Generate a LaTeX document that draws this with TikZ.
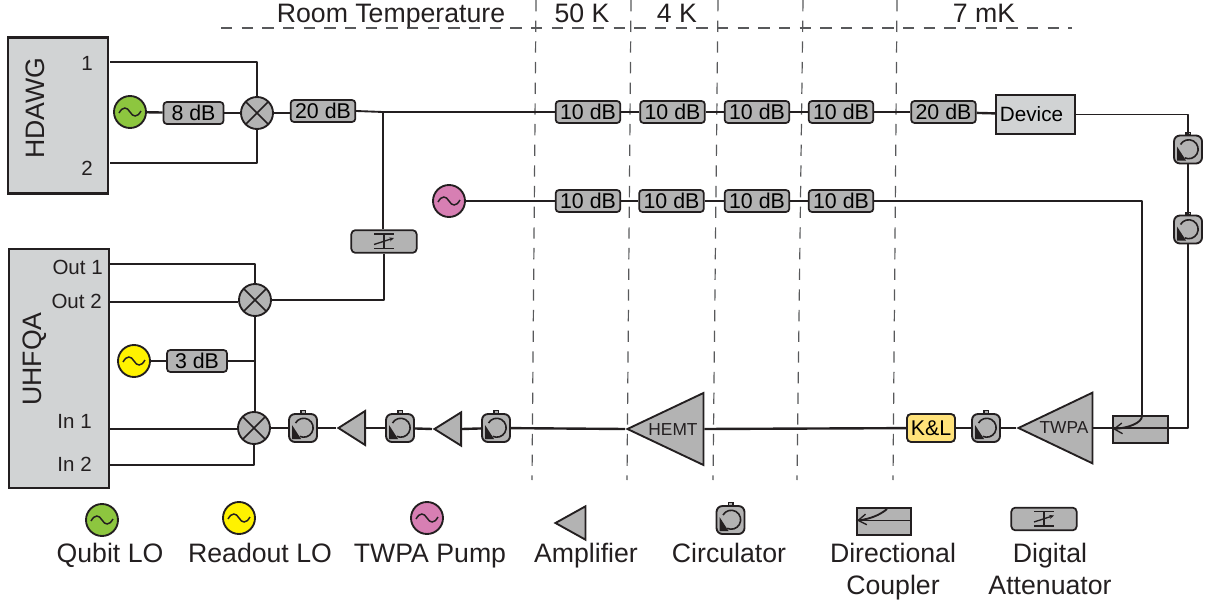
\documentclass[tikz,border=0pt]{standalone}
\usepackage{fontspec}
\setmainfont{Liberation Sans}
\usetikzlibrary{arrows.meta,shapes.geometric,calc}
\definecolor{ink}{HTML}{231F20}
\definecolor{part}{HTML}{B3B3B3}
\definecolor{inst}{HTML}{D1D3D4}
\definecolor{qubitc}{HTML}{8DC63F}
\definecolor{readc}{HTML}{FFF200}
\definecolor{pumpc}{HTML}{D77FB3}
\definecolor{klc}{HTML}{FFE27A}
\definecolor{dashc}{HTML}{58595B}
\newcommand{\fs}[1]{\fontsize{#1}{#1}\selectfont}
\tikzset{
  x=0.75pt,y=-0.75pt,
  wire/.style={draw=ink,line width=1.8pt,line join=round},
  thinwire/.style={draw=ink,line width=1.4pt,line join=round},
  templine/.style={draw=dashc,line width=0.9pt,dash pattern=on 8.5pt off 7pt},
  dbbox/.style={draw=ink,fill=part,line width=1.3pt,rounded corners=2.5pt,minimum width=48.5pt,minimum height=16.5pt,inner sep=0pt,font=\fs{16}},
  smalldb/.style={dbbox,minimum width=45pt},
  instrument/.style={draw=ink,fill=inst,line width=1.6pt,inner sep=0pt},
  mixer/.style={circle,draw=ink,fill=part,line width=1.4pt,minimum size=24pt,inner sep=0pt,
    path picture={\draw[ink,line width=1.3pt]
      (path picture bounding box.south west)--(path picture bounding box.north east)
      (path picture bounding box.north west)--(path picture bounding box.south east);}},
  source/.style={circle,draw=ink,fill=#1,line width=1.4pt,minimum size=24pt,inner sep=0pt,
    path picture={\draw[ink,line width=1.1pt,shift={(path picture bounding box.center)}]
      (-11,1) .. controls (-7,-6) and (-3,-5) .. (0,0) .. controls (3,5) and (7,6) .. (11,-1);}},
  ampshape/.style={isosceles triangle,isosceles triangle stretches,shape border rotate=180,draw=ink,fill=part,line width=1.4pt,inner sep=0pt,anchor=apex},
  circbox/.style={draw=ink,fill=part,line width=1.4pt,rounded corners=4.5pt,minimum size=21pt,inner sep=0pt},
  cplbox/.style={draw=ink,fill=part,line width=1.4pt,inner sep=0pt,minimum width=41pt,minimum height=20pt},
  attbox/.style={draw=ink,fill=part,line width=1.3pt,rounded corners=3pt,minimum width=49pt,minimum height=17pt,inner sep=0pt},
  lab/.style={inner sep=0pt,font=\fs{20},text=ink,text height=14.3pt,text depth=0pt},
  lab2/.style={lab,align=center},
  portlab/.style={inner sep=0pt,font=\fs{15.4},text=ink,text height=11pt,text depth=0pt},
  barb/.style={-{Straight Barb[length=6pt,width=8pt,line width=1pt]}},
}
\newcommand{\circulator}[3]{%
  \node[circbox] (#1) at (#2,#3) {};
  \fill[ink] ([shift={(-3,-18)}]#1.center) rectangle ([shift={(3,-14)}]#1.center);
  \fill[part] ([shift={(-1.5,-17)}]#1.center) rectangle ([shift={(1.5,-15.5)}]#1.center);
  \fill[ink] ([shift={(-11,-3)}]#1.center) -- ([shift={(-11,11)}]#1.center) -- ([shift={(-2,11)}]#1.center) -- cycle;
  \draw[ink,line width=1.2pt] ([shift={(-7.5,-5)}]#1.center) arc[start angle=150,end angle=-115,radius=7.1pt];
}
\newcommand{\attsym}[1]{%
  \draw[ink,line width=1pt]
    ([shift={(-10,-7.5)}]#1.center) -- ([shift={(10,-7.5)}]#1.center)
    ([shift={(-10,7)}]#1.center) -- ([shift={(10,7)}]#1.center)
    ([shift={(0,-7.5)}]#1.center) -- ([shift={(0,7)}]#1.center);
  \draw[ink,line width=1pt,-{Stealth[length=3.5pt,width=3pt]}] ([shift={(-10,3)}]#1.center) -- ([shift={(10,-3.5)}]#1.center);
}
\begin{document}
\begin{tikzpicture}
\useasboundingbox (0,0) rectangle (1208,603);
% temperature stage lines
\coordinate (ha) at (221,28); \coordinate (hb) at (1072,28);
\draw[templine] (ha) -- (hb);
\foreach \a/\b/\n in {536/532/s1,631/627/s2,718/713/s3,803/797/s4,897/893/s5}{
  \coordinate (\n t) at (\a,0); \coordinate (\n b) at (\b,480);
  \draw[templine] (\n t) -- (\n b);
}
\node[lab] (trt) at (391,13) {Room Temperature};
\node[lab] (t50) at (582,13) {50 K};
\node[lab] (t4) at (677,13) {4 K};
\node[lab] (t7) at (984,13) {7 mK};
% instruments
\node[instrument,minimum width=75pt,minimum height=117pt] (hd) at (58,115.5) {};
\node[lab,rotate=90] (hdl) at (35,108) {HDAWG};
\node[portlab] (h1) at (87,63) {1};
\node[portlab] (h2) at (87,168) {2};
\node[instrument,minimum width=75pt,minimum height=179pt] (uh) at (59,368.5) {};
\node[lab,rotate=90] (uhl) at (32,359) {UHFQA};
\node[portlab,anchor=east] (o1) at (103,267) {Out 1};
\node[portlab,anchor=east] (o2) at (102,301) {Out 2};
\node[portlab,anchor=east] (i1) at (92,421) {In 1};
\node[portlab,anchor=east] (i2) at (92,464) {In 2};
\coordinate (hp1) at (110,62); \coordinate (hp2) at (110,163);
\coordinate (up1) at (109,264); \coordinate (up2) at (110,302);
\coordinate (up3) at (109,429); \coordinate (up4) at (109,465);
% top chain
\node[source=qubitc] (lo1) at (130,112) {};
\node[smalldb] (d8) at (193.5,113) {8 dB};
\node[mixer] (mx1) at (257,113) {};
\node[dbbox] (d20) at (323,111) {20 dB};
\node[dbbox] (a1) at (588,112) {10 dB};
\node[dbbox] (a2) at (672.5,112) {10 dB};
\node[dbbox] (a3) at (757,112) {10 dB};
\node[dbbox] (a4) at (841,112) {10 dB};
\node[dbbox] (a5) at (943.5,112) {20 dB};
\node[instrument,minimum width=59pt,minimum height=29pt,font=\fs{15.5}] (dev) at (1035.5,114.5) {\hspace*{-6pt}Device};
\circulator{c5}{1188}{149.5}
\circulator{c6}{1188}{229.5}
% pump chain
\node[source=pumpc] (lo3) at (449,201) {};
\node[dbbox] (b1) at (588,201) {10 dB};
\node[dbbox] (b2) at (671.5,201) {10 dB};
\node[dbbox] (b3) at (757,201) {10 dB};
\node[dbbox] (b4) at (841,201) {10 dB};
% attenuator and readout
\node[attbox] (att) at (384,241.5) {};
\attsym{att}
\node[mixer] (mx2) at (255,300) {};
\node[source=readc] (lo2) at (134,361) {};
\node[smalldb] (d3) at (197,361) {3 dB};
\node[mixer] (mx3) at (254,428) {};
\circulator{c1}{303}{428}
\node[ampshape,minimum width=25.5pt,minimum height=20pt] (am1) at (336,428) {};
\circulator{c2}{400}{428}
\node[ampshape,minimum width=25pt,minimum height=20pt] (am2) at (432,429) {};
\circulator{c3}{496}{428}
\node[ampshape,minimum width=54pt,minimum height=57pt] (hemt) at (625,429) {};
\node[inner sep=0pt,font=\fs{13},text=ink] (hemtl) at (673,430) {HEMT};
\node[draw=ink,fill=klc,line width=1.4pt,rounded corners=3pt,minimum width=36pt,minimum height=21pt,inner sep=0pt,font=\fs{16}] (kl) at (931,428) {K\&L};
\circulator{c4}{986}{428}
\node[ampshape,minimum width=53pt,minimum height=55.5pt] (twpa) at (1016,428) {};
\node[inner sep=0pt,font=\fs{13},text=ink] (twpal) at (1064,428) {TWPA};
\node[cplbox] (cp) at (1140.5,429.5) {};
\coordinate (cpa) at (1142,416);
% connectors
\draw[wire] (hp1) -| (mx1.north);
\draw[wire] (hp2) -| (mx1.south);
\draw[wire] (lo1) -- (d8);
\draw[wire] (d8) -- (mx1);
\draw[wire] (mx1) -- (d20.west |- mx1);
\coordinate (jn) at (383,112);
\draw[thinwire] (d20.east) -- (jn);
\draw[wire] (jn) -- (a1.west);
\foreach \p/\q in {a1/a2,a2/a3,a3/a4,a4/a5}{\draw[wire] (\p) -- (\q);}
\draw[wire] (a5) -- (dev);
\draw[thinwire] (dev.east) -| (c5.north);
\draw[wire] (c5.south) -- (c6.north);
\draw[wire] (jn) -- (att.north -| jn);
\draw[wire] (lo3) -- (b1);
\foreach \p/\q in {b1/b2,b2/b3,b3/b4}{\draw[wire] (\p) -- (\q);}
\draw[wire] (b4.east) -| (cpa);
\draw[wire] (up1) -| (mx2.north);
\draw[wire] (up2) -- (mx2.west |- up2);
\draw[wire] (mx2.east) -| (att.south);
\draw[wire] (mx2.south) -- (mx3.north -| mx2);
\draw[wire] (lo2) -- (d3);
\draw[wire] (d3.east) -- (d3.east -| mx2);
\draw[wire] (up3) -- (mx3.west |- up3);
\draw[wire] (up4) -| (mx3.south);
\draw[wire] (mx3) -- (c1);
\draw[wire] (c1) -- (am1.apex);
\draw[wire] (am1.lower side) -- (c2);
\draw[wire] (c2) -- (am2.apex);
\draw[wire] (am2.lower side) -- (c3);
\draw[wire] (c3) -- (hemt.apex);
\draw[wire] (hemt.lower side) -- (kl);
\draw[wire] (kl) -- (c4);
\draw[wire] (c4) -- (twpa.apex);
\draw[thinwire] (c6.south) |- (twpa.lower side);
\draw[thinwire,barb] (cpa) .. controls (1142,423) and (1128,428) .. (1113,429);
% legend
\node[source=qubitc] (lg1) at (102,520) {};
\node[lab] (lt1) at (110,553) {Qubit LO};
\node[source=readc] (lg2) at (239,518) {};
\node[lab] (lt2) at (260,553) {Readout LO};
\node[source=pumpc] (lg3) at (427,518) {};
\node[lab] (lt3) at (430,553) {TWPA Pump};
\node[ampshape,minimum width=25pt,minimum height=22.5pt] (lg4) at (553,523) {};
\node[lab] (lt4) at (586,553) {Amplifier};
\circulator{lg5}{730.5}{520}
\node[lab] (lt5) at (729,553) {Circulator};
\node[cplbox] (lg6) at (884,521.5) {};
\coordinate (lg6a) at (887,509); \coordinate (lg6b) at (857,520.5);
\draw[ink,line width=1.1pt] (lg6.west |- lg6b) -- (lg6.east |- lg6b);
\draw[thinwire,barb] (lg6a) .. controls (880,515) and (870,519) .. (lg6b);
\node[lab2] (lt6a) at (893,553) {Directional};
\node[lab2] (lt6b) at (893,585) {Coupler};
\node[attbox] (lg7) at (1044,519) {};
\attsym{lg7}
\node[lab2] (lt7a) at (1050,553) {Digital};
\node[lab2] (lt7b) at (1050,585) {Attenuator};
\end{tikzpicture}
\end{document}
